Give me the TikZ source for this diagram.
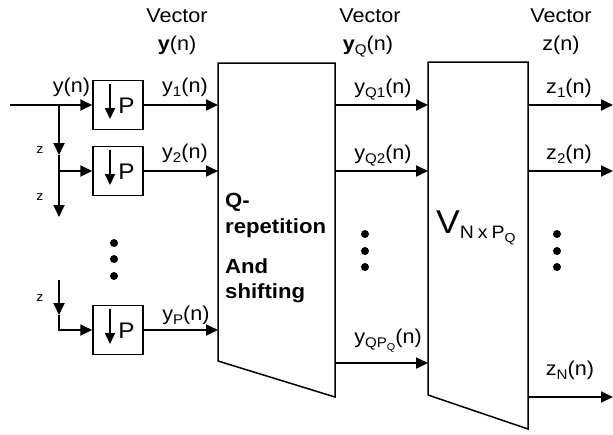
\documentclass[tikz,border=0pt]{standalone}
\usepackage{fontspec}
\setmainfont{Liberation Sans}[FakeStretch=1.08]
\usetikzlibrary{arrows.meta,calc}
\newcommand{\lsub}[1]{\raisebox{-0.22em}{\fontsize{14}{14}\selectfont #1}}
\newcommand{\ssub}[1]{\raisebox{-0.2em}{\fontsize{10}{10}\selectfont #1}}
\tikzset{
  lbl/.style={font=\fontsize{20}{24}\selectfont, inner sep=0pt, anchor=base},
  zlbl/.style={font=\fontsize{13}{15}\selectfont, inner sep=0pt},
  btxt/.style={font=\fontsize{20.5}{24}\selectfont\bfseries, inner sep=0pt, anchor=base west},
  arr/.style={line width=1.8pt, -{Triangle[length=12pt,width=11pt]}},
  wire/.style={line width=1.8pt},
  blk/.style={line width=1.5pt, line join=miter},
  pbox/.style={draw, line width=1.5pt, minimum width=50pt, minimum height=49pt, inner sep=0pt},
  dot/.style={circle, fill, inner sep=0pt, minimum size=8pt},
}
\begin{document}
\begin{tikzpicture}[x=1pt,y=-1pt]
\useasboundingbox (0,0) rectangle (613,434);

% headers
\node[lbl] (h1a) at (177,22) {Vector};
\node[lbl] (h1b) at (177,50) {\textbf{y}(n)};
\node[lbl] (h2a) at (370,22) {Vector};
\node[lbl] (h2b) at (368,50) {\textbf{y}\lsub{Q}(n)};
\node[lbl] (h3a) at (561,22) {Vector};
\node[lbl] (h3b) at (561,50) {z(n)};

% down-sampling boxes
\node[pbox] (p1) at (118,105) {};
\node[pbox] (p2) at (118,171) {};
\node[pbox] (p3) at (118,330) {};
\foreach \b in {p1,p2,p3}{
  \draw[line width=1.8pt, -{Triangle[length=11pt,width=10pt]}] ($(\b.center)+(-8,-21)$) -- ($(\b.center)+(-8,14)$);
  \node[lbl, font=\fontsize{22.5}{26}\selectfont] at ($(\b.center)+(8.5,8.5)$) {P};
}

% left delay chain
\coordinate (start) at (10,105);
\coordinate (j1) at (59,105);
\coordinate (za1) at (59,155);
\coordinate (j2) at (59,171);
\coordinate (vend) at (59,217);
\coordinate (t3) at (59,280);
\coordinate (za3) at (59,315);
\coordinate (j3) at (59,330);
\draw[arr] (start) -- (p1.west);
\draw[arr] (j1) -- (za1);
\draw[arr] (za1) -- (vend);
\draw[arr] (j2) -- (p2.west);
\draw[arr] (t3) -- (za3);
\draw[arr] (za3) -- (j3) -- (p3.west);
\node[zlbl] (z1) at (40,150) {z};
\node[zlbl] (z2) at (40,197) {z};
\node[zlbl] (z3) at (40,298) {z};

% dots
\node[dot] (d1) at (114,243) {};
\node[dot] (d2) at (114,259) {};
\node[dot] (d3) at (114,276) {};
\node[dot] (d4) at (365,234) {};
\node[dot] (d5) at (365,251) {};
\node[dot] (d6) at (365,267) {};
\node[dot] (d7) at (557,234) {};
\node[dot] (d8) at (557,251) {};
\node[dot] (d9) at (557,267) {};

% block 1
\draw[blk] (218,63) -- (335,63) -- (335,397) -- (218,361) -- cycle;
\coordinate (a1) at (218,105);
\coordinate (a2) at (218,171);
\coordinate (a3) at (218,330);
\coordinate (b1) at (335,105);
\coordinate (b2) at (335,171);
\coordinate (b3) at (335,363);
% block 2
\draw[blk] (428,62) -- (528,62) -- (528,429) -- (428,395) -- cycle;
\coordinate (c1) at (428,105);
\coordinate (c2) at (428,171);
\coordinate (c3) at (428,363);
\coordinate (e1) at (528,105);
\coordinate (e2) at (528,171);
\coordinate (e3) at (528,397);
\coordinate (o1) at (613,105);
\coordinate (o2) at (613,171);
\coordinate (o3) at (613,397);

\draw[arr] (p1.east) -- (a1);
\draw[arr] (p2.east) -- (a2);
\draw[arr] (p3.east) -- (a3);
\draw[arr] (b1) -- (c1);
\draw[arr] (b2) -- (c2);
\draw[arr] (b3) -- (c3);
\draw[arr] (e1) -- (o1);
\draw[arr] (e2) -- (o2);
\draw[arr] (e3) -- (o3);

% labels
\node[lbl] (ly) at (71.5,92) {y(n)};
\node[lbl] (ly1) at (185,92) {y\lsub{1}(n)};
\node[lbl] (ly2) at (185,158) {y\lsub{2}(n)};
\node[lbl] (lyp) at (186,320) {y\lsub{P}(n)};
\node[lbl] (lq1) at (383,93) {y\lsub{Q1}(n)};
\node[lbl] (lq2) at (383,159) {y\lsub{Q2}(n)};
\node[lbl] (lq3) at (388,343) {y\lsub{QP\ssub{Q}}(n)};
\node[lbl] (lz1) at (569,93) {z\lsub{1}(n)};
\node[lbl] (lz2) at (569,159) {z\lsub{2}(n)};
\node[lbl] (lzn) at (570,375) {z\lsub{N}(n)};

% block texts
\node[btxt] (t1) at (225,207) {Q-};
\node[btxt] (t2) at (225,233) {repetition};
\node[btxt] (t3n) at (225,273) {And};
\node[btxt] (t4) at (225,298) {shifting};
\node[inner sep=0pt, anchor=base west, font=\fontsize{33}{36}\selectfont] (vv) at (436,233)
  {V\raisebox{-0.18em}{\fontsize{18}{20}\selectfont N\hspace{4pt}x\hspace{4pt}P\raisebox{-0.2em}{\fontsize{13}{13}\selectfont Q}}};
\end{tikzpicture}
\end{document}
